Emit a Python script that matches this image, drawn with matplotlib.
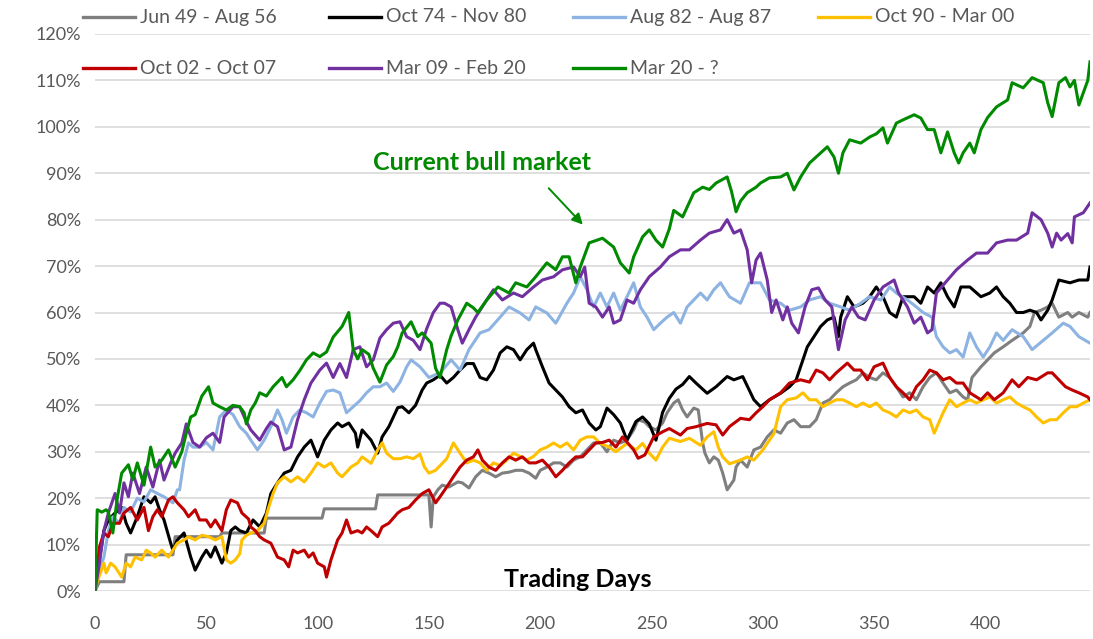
import matplotlib
matplotlib.use("Agg")
import matplotlib.pyplot as plt
from matplotlib.lines import Line2D
from matplotlib.ticker import FuncFormatter, MultipleLocator

plt.rcParams['font.family'] = ['Lato', 'DejaVu Sans']

# cumulative gain (%) vs trading days
jun49_days = [0, 2, 13, 14, 35, 36, 56, 57, 76, 77, 102, 103, 126, 127, 150, 151, 152, 154, 156, 159,
              163, 165, 168, 171, 174, 177, 180, 183, 186, 189, 192, 195, 198, 200, 203, 206, 209, 212,
              215, 218, 221, 224, 227, 230, 233, 236, 239, 242, 244, 247, 249, 252, 255, 257, 260, 262,
              264, 266, 269, 271, 273, 274, 276, 278, 280, 282, 284, 287, 288, 290, 293, 296, 299, 302,
              305, 308, 311, 314, 317, 321, 324, 327, 330, 333, 336, 339, 342, 345, 348, 351, 354, 357,
              360, 363, 366, 369, 372, 375, 378, 381, 384, 387, 390, 392, 394, 398, 401, 404, 408, 412,
              417, 420, 422, 425, 428, 430, 433, 437, 439, 442, 446, 447]
jun49_vals = [0, 2, 2, 7.8, 7.8, 11.7, 11.7, 12.5, 12.5, 15.7, 15.7, 17.7, 17.7, 20.7, 20.7, 13.8, 20.3,
              21.8, 22.8, 22.4, 23.5, 23.3, 22.2, 24.6, 26, 25.4, 24.6, 25.4, 25.6, 26, 26, 25.4, 24.3, 26,
              26.7, 27.6, 27.6, 26.7, 28.2, 28.9, 30.4, 31.9, 31.9, 30, 32.5, 31.9, 32.5, 34.7, 36.9, 36.4,
              35.4, 34.7, 36.2, 38.4, 40.5, 41.2, 39, 37.5, 39.4, 39, 31.9, 29.7, 27.6, 28.9, 28.2, 25.4,
              21.8, 23.9, 26.7, 28.2, 26.7, 30.4, 31, 33.2, 34.7, 34, 36.2, 36.9, 35.4, 35.4, 36.9, 40.5,
              41.2, 42.7, 44, 44.8, 45.5, 47, 46, 45.5, 47, 46, 44, 41.8, 42.7, 41.2, 44, 46, 47, 44.8,
              42.7, 43.3, 41.8, 41.2, 46, 48.3, 49.8, 51.3, 52.6, 54, 55.6, 57, 60, 60.5, 61.2, 62, 59, 60,
              59, 60, 59, 60]

oct74_days = [0, 1, 4, 6, 9, 12, 14, 16, 19, 22, 25, 27, 29, 31, 34, 35, 37, 40, 43, 45, 48, 50, 52, 54,
              57, 59, 61, 63, 65, 68, 71, 74, 77, 79, 82, 85, 88, 91, 94, 97, 100, 103, 106, 109, 111,
              114, 117, 118, 120, 124, 127, 129, 132, 136, 138, 141, 144, 147, 149, 152, 155, 158, 161,
              164, 167, 170, 173, 176, 179, 182, 185, 188, 191, 194, 197, 198, 201, 204, 207, 210, 213,
              216, 219, 222, 225, 227, 230, 233, 236, 239, 243, 246, 249, 252, 255, 258, 261, 264, 267,
              270, 275, 279, 284, 287, 291, 296, 299, 303, 308, 312, 315, 318, 320, 323, 326, 329, 332,
              334, 335, 338, 341, 345, 348, 351, 354, 357, 360, 363, 368, 371, 374, 377, 380, 383, 386,
              389, 393, 398, 402, 405, 408, 411, 414, 417, 420, 423, 425, 428, 430, 433, 438, 442, 446, 447]
oct74_vals = [0, 3.9, 13, 15.3, 16.8, 18, 14.6, 12.5, 16, 20.3, 19, 20.3, 17.5, 15.3, 10.3, 8.8, 11,
              12.5, 7.3, 4.5, 7.3, 8.8, 7.3, 9.5, 6, 8.2, 13, 13.8, 13, 12.5, 15.3, 13.8, 16.8, 21, 23.3,
              25.4, 26, 28.9, 31, 32.5, 28.9, 32.5, 34.7, 36.2, 35.4, 36.2, 34, 31, 34.7, 32.5, 29.7,
              33.2, 35.4, 39.5, 39.7, 38.4, 40, 43.3, 44.8, 45.5, 46.5, 44.8, 46, 47.6, 49, 49, 46, 45.5,
              47.6, 51.3, 52.6, 52, 49.8, 52, 53.4, 52, 48.3, 44.8, 43.3, 41.8, 39.7, 38.4, 39, 36.2,
              34.7, 35.4, 39.4, 38, 36.2, 32.5, 36.5, 37.5, 36, 32.5, 38.5, 41.5, 43.5, 44.5, 46.2, 44.8,
              42.6, 44, 46.2, 45.5, 46.2, 41.2, 39.7, 41.2, 42.6, 44, 45.5, 49.8, 52.6, 54.8, 57, 58.4,
              59, 54.8, 59, 63.4, 61.2, 62, 63.4, 65.5, 63.4, 60, 59, 63.4, 63.4, 62, 65.5, 64.2, 66.4,
              63.4, 61.2, 65.5, 65.5, 63.4, 64.2, 65.5, 63.4, 62, 60, 60, 60.5, 60, 58.4, 60.5, 62.7, 67,
              66.4, 67, 67, 69.8]

aug82_days = [0, 1, 4, 6, 8, 11, 13, 16, 19, 22, 25, 28, 31, 35, 37, 38, 40, 42, 44, 47, 50, 53, 56,
              59, 62, 65, 68, 70, 73, 76, 79, 82, 84, 86, 89, 92, 95, 98, 101, 104, 107, 110, 113, 116,
              119, 122, 125, 128, 131, 134, 137, 140, 142, 146, 150, 155, 160, 164, 168, 173, 177, 182,
              186, 191, 195, 198, 203, 207, 212, 215, 218, 221, 224, 227, 230, 233, 236, 239, 242, 245,
              248, 251, 254, 257, 260, 263, 266, 269, 272, 275, 278, 281, 285, 290, 294, 299, 303, 308,
              312, 317, 321, 326, 330, 335, 339, 344, 348, 353, 357, 360, 365, 369, 372, 376, 378, 381,
              384, 387, 390, 393, 396, 399, 402, 405, 408, 412, 417, 421, 426, 430, 435, 438, 442, 447]
aug82_vals = [0, 3, 7.3, 13, 16, 14.6, 18, 17, 20, 19.2, 21.8, 21, 20.3, 19, 21.8, 21.8, 28.2, 31.9,
              31, 31, 32, 30.4, 37.5, 39, 38, 35.4, 34, 32.5, 30.4, 32.5, 35.4, 39, 36.9, 34, 37.5, 39,
              38.4, 37.5, 40.5, 43, 43.3, 42.7, 38.4, 39.7, 41, 42.7, 44, 44, 44.8, 43, 45, 48.3, 49.8,
              48.3, 46, 47, 49.8, 47.6, 52, 55.6, 56.3, 59, 61.2, 59.9, 58.4, 61.2, 59.9, 57.7, 62, 64.2,
              67.7, 64.9, 61.2, 64.2, 61.2, 64.2, 60.5, 63.4, 66.4, 61.2, 59, 56.3, 57.7, 59, 60, 57.7,
              61.2, 62.7, 64.2, 62.7, 64.9, 66.4, 63.4, 62, 66.4, 66.4, 62.7, 62, 60.5, 61.2, 62.7, 63.4,
              62, 61.2, 60.5, 62, 63.4, 62.7, 65.5, 64.2, 62.7, 61.2, 60, 59, 54.8, 52.6, 51.3, 52, 50.4,
              55.6, 52.6, 50.4, 52.6, 55.6, 54, 56.3, 54.8, 52, 54, 55.6, 57.7, 57, 54.8, 53.4]

oct90_days = [0, 1, 4, 5, 7, 9, 12, 14, 16, 18, 21, 23, 25, 27, 30, 33, 35, 37, 40, 42, 45, 48, 51,
              54, 57, 59, 61, 63, 65, 66, 68, 70, 73, 76, 78, 80, 82, 85, 88, 91, 94, 97, 100, 103, 106,
              109, 111, 115, 118, 120, 124, 127, 129, 131, 134, 137, 140, 143, 146, 148, 150, 153, 155,
              158, 161, 164, 167, 170, 173, 176, 179, 182, 185, 188, 191, 194, 197, 200, 203, 206, 209,
              212, 215, 218, 221, 224, 227, 231, 234, 239, 243, 246, 249, 252, 255, 258, 263, 267, 272,
              275, 278, 280, 282, 285, 290, 293, 296, 300, 305, 308, 311, 315, 318, 321, 324, 327, 330,
              333, 336, 339, 342, 345, 348, 351, 354, 357, 360, 363, 366, 369, 372, 375, 377, 379, 381,
              384, 387, 390, 393, 396, 399, 402, 405, 408, 411, 414, 417, 420, 423, 426, 429, 432, 435,
              438, 441, 444, 447]
oct90_vals = [0, 2, 6, 3.9, 6, 5.2, 3, 6, 5.2, 7.3, 6.7, 8.8, 8.2, 7.3, 8.8, 7.3, 8.8, 10.3, 11, 11.7,
              11, 12, 11.7, 11, 11.7, 6.7, 6, 6.7, 8, 11, 12, 12.5, 13, 14.6, 18, 21, 23.3, 24.6, 23.5,
              24.6, 23.5, 25.4, 27.6, 26.7, 27.6, 25.4, 24.6, 26.7, 27.6, 28.9, 27.5, 30.4, 31.9, 29.7,
              28.5, 28.5, 28.9, 28.5, 29.5, 26.7, 25.4, 26, 27, 28.5, 31.9, 29.7, 27.6, 28.2, 27.6, 26,
              27.6, 27, 28.2, 29.7, 29, 28.2, 29, 30.4, 31, 31.9, 31, 31.9, 30.4, 32.5, 33.2, 33.2, 31.8,
              31, 30, 31.8, 30.4, 31.8, 29.7, 28.2, 31, 32.9, 32.2, 32.9, 31.4, 33.2, 34.3, 31, 28.9,
              27.4, 28.2, 28.9, 28.2, 30.4, 33.9, 39.7, 41.2, 41.6, 42.7, 41.2, 41.2, 39.7, 40.5, 41.2,
              41.2, 40.5, 39.7, 40.5, 39.7, 40.5, 39, 38.4, 37.5, 39, 38.4, 39, 37.5, 36.9, 34, 36.2,
              38.4, 41.2, 39.7, 40.5, 41.2, 40.5, 41.2, 41.8, 40.5, 41.2, 41.8, 40.5, 39.7, 39, 37.5,
              36.2, 36.9, 36.9, 38.4, 39.7, 39.7, 40.5, 41.2]

oct02_days = [0, 2, 4, 6, 8, 11, 13, 16, 19, 22, 24, 26, 28, 30, 33, 35, 37, 40, 42, 45, 47, 50, 52,
              54, 57, 59, 61, 64, 66, 69, 70, 72, 74, 76, 79, 82, 85, 87, 89, 91, 94, 96, 98, 100, 103,
              104, 106, 109, 111, 113, 115, 118, 120, 122, 124, 127, 129, 132, 136, 138, 141, 144, 147,
              150, 153, 155, 158, 161, 164, 167, 170, 172, 174, 177, 180, 183, 186, 189, 192, 195, 198,
              201, 204, 207, 210, 213, 216, 219, 222, 225, 228, 231, 234, 237, 242, 244, 247, 251, 255,
              258, 263, 266, 270, 275, 279, 282, 285, 290, 294, 297, 300, 303, 308, 312, 317, 321, 324,
              327, 330, 333, 338, 341, 344, 347, 350, 354, 357, 360, 363, 366, 369, 372, 375, 378, 381,
              384, 387, 390, 393, 398, 401, 404, 408, 412, 415, 419, 423, 428, 430, 433, 436, 439, 442,
              446, 447]
oct02_vals = [0, 9.5, 12.5, 11.7, 14.6, 14.6, 16.8, 18, 15.3, 18, 13, 16, 17.5, 16, 19.6, 20.3, 19,
              17.5, 16, 17.5, 15.3, 15.3, 13.8, 15.3, 13, 17.5, 19.6, 19, 16.8, 15.5, 13.8, 13, 11.7, 11,
              10.3, 7.3, 6.7, 5.2, 8.8, 8.2, 8.8, 7.3, 8.2, 6, 5.2, 3, 6.7, 11, 12.5, 15.3, 12.5, 13,
              12.5, 13.8, 13, 11.7, 13.8, 14.6, 16.8, 17.5, 18, 19.6, 21, 21.8, 19, 20.3, 22.4, 24.6,
              26.7, 28.2, 28.9, 30.4, 28.2, 26.7, 26, 27.6, 28.9, 28.2, 28.9, 27.6, 27.6, 28.2, 26.7,
              24.6, 26, 27.6, 28.9, 28.9, 30.4, 31.9, 32, 32.5, 31, 33.2, 30.4, 28.6, 29.3, 33.2, 34.3,
              35, 33.6, 35, 35.4, 36.1, 35.8, 33.6, 35.4, 37.2, 36.9, 38.4, 39.7, 41.2, 42.7, 44.8, 45.5,
              45, 47.6, 47, 45.5, 47, 49.1, 47.6, 47.6, 45.5, 48.3, 49.1, 46, 44, 42.7, 41.2, 44, 45.5,
              47.6, 47, 45.5, 46, 44.8, 44.8, 42.7, 41.2, 42.7, 41.2, 42.7, 45.5, 44, 46, 45.5, 47, 47,
              45.5, 44, 43.3, 42.7, 41.8, 41.2]

mar09_days = [0, 2, 4, 6, 9, 11, 13, 15, 17, 20, 23, 26, 29, 31, 34, 36, 39, 41, 44, 47, 50, 53, 56,
              58, 62, 65, 68, 70, 74, 77, 79, 82, 85, 88, 91, 94, 97, 101, 104, 107, 110, 113, 116, 119,
              122, 125, 128, 131, 134, 137, 140, 143, 146, 149, 152, 155, 157, 160, 163, 165, 168, 171,
              175, 179, 183, 188, 192, 197, 201, 206, 210, 215, 218, 220, 222, 225, 228, 231, 233, 236,
              239, 242, 245, 249, 254, 258, 263, 267, 272, 276, 281, 284, 287, 290, 293, 295, 297, 299,
              302, 304, 306, 309, 311, 313, 316, 319, 322, 325, 328, 331, 334, 337, 340, 343, 346, 350,
              354, 359, 361, 365, 368, 371, 374, 376, 378, 383, 387, 392, 396, 401, 405, 410, 414, 419,
              421, 425, 428, 430, 432, 434, 437, 439, 440, 444, 447]
mar09_vals = [0, 6, 13, 16.8, 21, 16.8, 23.3, 20.3, 25.4, 21, 26.7, 22.4, 28.2, 23.9, 27.6, 29.7,
              31.9, 36, 32, 31, 33, 34, 32, 37.5, 39.7, 39.7, 36.5, 34.7, 32.5, 35, 36.4, 35.4, 30.4, 31,
              36.9, 41.2, 44.8, 47.6, 49.1, 46, 49, 46, 52, 52.6, 48.3, 49.8, 54.5, 56.3, 57.7, 58, 54.8,
              54, 52, 56.5, 60, 62, 62, 61.2, 56.3, 53.4, 56.3, 59, 62, 64.9, 62.7, 64.2, 63.4, 65.5, 67,
              67.7, 69.2, 69.8, 67.7, 69.8, 62, 61.2, 59, 61.2, 57.7, 58.4, 62.7, 62, 64.9, 67.7, 69.8,
              72, 73.5, 73.5, 75.6, 77.1, 77.8, 80, 77.1, 77.8, 73.5, 66.4, 71.3, 72.8, 67, 60, 62.7,
              58.4, 61.2, 57.7, 55.6, 61.2, 64.9, 65.3, 62.7, 61.2, 52, 58.4, 61.2, 59, 58.4, 62.7, 65.5,
              67, 64.2, 61.2, 57.7, 59, 55.6, 56.3, 64.2, 67, 69.2, 71.3, 72.8, 72.8, 75, 75.6, 75.6,
              77.1, 81.5, 80, 77.1, 74.1, 77.1, 75.6, 77, 75, 80.6, 81.5, 83.6]

mar20_days = [0, 1, 3, 5, 6, 8, 10, 12, 15, 17, 19, 22, 25, 27, 30, 33, 36, 39, 41, 43, 45, 48, 51,
              53, 56, 59, 62, 65, 67, 68, 70, 72, 74, 77, 80, 84, 86, 89, 92, 95, 98, 101, 104, 107,
              111, 114, 116, 118, 120, 123, 125, 128, 131, 134, 136, 138, 142, 145, 147, 151, 153, 155,
              158, 160, 163, 167, 170, 172, 176, 181, 186, 189, 194, 198, 203, 207, 210, 213, 216, 218,
              222, 225, 228, 233, 236, 240, 242, 246, 249, 252, 255, 258, 260, 264, 269, 273, 276, 279,
              284, 286, 288, 290, 293, 297, 299, 303, 308, 311, 314, 317, 321, 326, 329, 332, 334, 336,
              339, 344, 348, 351, 354, 356, 360, 363, 368, 371, 374, 377, 380, 383, 386, 388, 390, 393,
              395, 398, 401, 405, 410, 412, 417, 421, 426, 428, 430, 433, 436, 438, 440, 442, 446, 447]
mar20_vals = [0, 17.5, 17, 17.5, 17, 12.5, 20, 25.4, 27.2, 24, 27.6, 22.8, 31, 26.7, 28.2, 30.4, 26.7,
              30, 34, 37.5, 38, 42, 44, 40.5, 39.7, 39, 40, 39.7, 38.4, 36, 39, 40.5, 42.7, 42, 44, 46,
              44, 45.5, 47.5, 49.8, 51.3, 50.5, 51.5, 54.7, 57, 60, 52, 50, 52, 51, 48, 45, 48.7, 50.5,
              52.6, 55.6, 58, 54.8, 55.6, 53.4, 48, 46, 52, 55, 58.4, 62, 61, 60, 62.7, 65.5, 64.2, 66.4,
              65.5, 67.7, 70.7, 69.2, 72, 72, 66.4, 69.8, 75, 75.5, 76, 74.1, 70.7, 68.5, 72, 76.3, 77.8,
              75.6, 74.1, 78, 82, 80.6, 85.8, 87, 86.5, 87.9, 89.2, 86, 81.7, 84, 85.8, 87, 87.9, 89,
              89.2, 90, 86.4, 89.2, 92.2, 94.4, 95.7, 93.5, 90, 94.4, 97.2, 96.5, 97.8, 98.5, 99.8, 96.5,
              100.8, 101.5, 102.6, 101.9, 99.4, 99.4, 94.4, 98.9, 94.4, 92.2, 94.4, 96.5, 94.4, 99.4,
              102, 104.3, 105.8, 109.5, 108.4, 110.6, 109.5, 105.2, 102.2, 109.5, 110.6, 108.6, 110,
              104.7, 110, 114]

labels = ['Jun 49 - Aug 56', 'Oct 74 - Nov 80', 'Aug 82 - Aug 87', 'Oct 90 - Mar 00',
          'Oct 02 - Oct 07', 'Mar 09 - Feb 20', 'Mar 20 - ?']
colors = ['#7f7f7f', '#000000', '#8db3e2', '#ffc000', '#c00000', '#7030a0', '#008a00']
series = [(jun49_days, jun49_vals), (oct74_days, oct74_vals), (aug82_days, aug82_vals),
          (oct90_days, oct90_vals), (oct02_days, oct02_vals), (mar09_days, mar09_vals),
          (mar20_days, mar20_vals)]

W, H = 1093, 639
fig = plt.figure(figsize=(W / 100, H / 100), dpi=100)
ax = fig.add_axes([95 / W, 48 / H, 995 / W, 557 / H])

for (d, v), c in zip(series, colors):
    ax.plot(d, v, color=c, lw=2.2, solid_joinstyle='round')

ax.set_xlim(0, 447)
ax.set_ylim(0, 120)
ax.set_xticks(range(0, 401, 50))
ax.yaxis.set_major_locator(MultipleLocator(10))
ax.yaxis.set_major_formatter(FuncFormatter(lambda v, p: f'{v:.0f}%'))
ax.grid(axis='y', color='#d9d9d9', lw=1.2)
ax.set_axisbelow(True)
for s in ax.spines.values():
    s.set_visible(False)
ax.tick_params(axis='both', length=0, labelsize=13, labelcolor='#595959')
ax.tick_params(axis='x', pad=18)
ax.tick_params(axis='y', pad=10)

green = '#008a00'
ax.text(174, 92.3, 'Current bull market', color=green, fontsize=18, fontweight='bold',
        ha='center', va='center')
ax.annotate('', xy=(220, 78.5), xytext=(203, 87.2),
            arrowprops=dict(arrowstyle='-|>', color=green, lw=1.4, mutation_scale=16))
ax.text(0.485, 0.02, 'Trading Days', transform=ax.transAxes, ha='center', va='center',
        fontsize=18, fontweight='bold', color='black')

# legend, two rows across the top
col_x = [83, 329, 573, 818]
row_y = [17, 68]
for i, (lab, c) in enumerate(zip(labels, colors)):
    r, k = divmod(i, 4)
    x0 = col_x[k]
    y = 1 - row_y[r] / H
    fig.add_artist(Line2D([x0 / W, (x0 + 52) / W], [y, y], color=c, lw=2.4,
                          transform=fig.transFigure))
    fig.text((x0 + 57) / W, y, lab, color='#595959', fontsize=14, va='center', ha='left')

fig.savefig('out.png', dpi=100)
